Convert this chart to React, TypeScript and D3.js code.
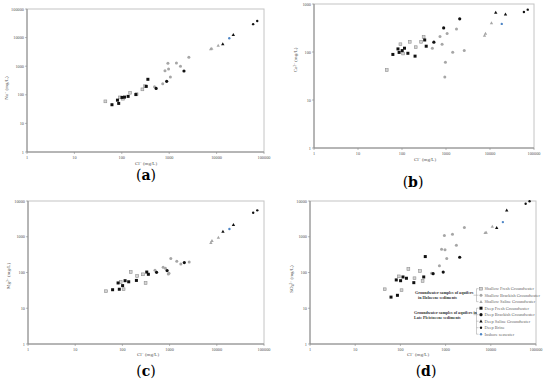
import * as d3 from 'd3';

// Cl- shared by all four panels; one entry per sample
const shallowCl = [45, 92, 106, 150, 205, 272, 310, 490, 730, 815, 940, 970, 1060, 1420, 1730, 2600, 7500, 7900, 10800];
const shallowType = ['SF', 'SF', 'SF', 'SF', 'SF', 'SF', 'SF', 'SB', 'SB', 'SB', 'SB', 'SB', 'SB', 'SB', 'SB', 'SB', 'SS', 'SS', 'SS'];
const shallowNa = [59, 81, 73, 118, 105, 155, 200, 192, 245, 700, 1260, 800, 420, 1300, 1000, 2050, 4000, 4100, 5300];
const shallowCa = [42, 145, 93, 163, 126, 163, 206, 120, 210, 145, 30, 61, 242, 99, 303, 107, 220, 242, 403];
const shallowMg = [30, 54, 34, 103, 80, 89, 51, 115, 140, 131, 91, 95, 245, 206, 174, 197, 675, 767, 955];
const shallowSO4 = [34, 78, 32, 125, 69, 110, 58, 95, 155, 447, 1085, 430, 245, 1180, 580, 1820, 1290, 1320, 1940];

const deepCl = [62, 81, 86, 101, 114, 136, 198, 328, 355, 530, 885, 2050, 13500, 22500, 59000, 72000];
const deepType = ['DF', 'DF', 'DF', 'DF', 'DF', 'DF', 'DF', 'DF', 'DF', 'DB', 'DB', 'DB', 'DS', 'DS', 'DBr', 'DBr'];
const deepNa = [45, 65, 50, 81, 83, 88, 102, 197, 348, 167, 295, 680, 5900, 12600, 29500, 38000];
const deepCa = [89, 116, 98, 107, 120, 94, 82, 178, 132, 160, 318, 490, 660, 611, 683, 762];
const deepMg = [33, 51, 34, 43, 59, 55, 60, 103, 89, 101, 113, 189, 1406, 2160, 4700, 5470];
const deepSO4 = [20.5, 62, 23, 59, 75, 69, 52, 75, 279, 93, 103, 267, 1780, 5470, 8410, 9800];

const seawaterCl = [18500];
const seawaterNa = [9500];
const seawaterCa = [385];
const seawaterMg = [1650];
const seawaterSO4 = [2570];

const xTicks = [1, 10, 100, 1000, 10000, 100000];

const legendTypes = ['SF', 'SB', 'SS', 'DF', 'DB', 'DS', 'DBr', 'SW'];
const legendLabels = [
  'Shallow Fresh Groundwater',
  'Shallow Brackish Groundwater',
  'Shallow Saline Groundwater',
  'Deep Fresh Groundwater',
  'Deep Brackish Groundwater',
  'Deep Saline Groundwater',
  'Deep Brine',
  'Inshore seawater',
];

const font = 'Liberation Serif, DejaVu Serif, serif';

const Marker = ({ t, x, y }: { t: string; x: number; y: number }) => {
  const gray = '#a6a6a6';
  const black = '#111';
  if (t === 'SF') return <rect x={x - 1.4} y={y - 1.4} width={2.8} height={2.8} fill="#d4d4d4" stroke="#8f8f8f" strokeWidth={0.6} />;
  if (t === 'SB') return <circle cx={x} cy={y} r={1.5} fill={gray} />;
  if (t === 'SS') return <path d={`M${x},${y - 1.8}L${x + 1.7},${y + 1.2}L${x - 1.7},${y + 1.2}Z`} fill={gray} />;
  if (t === 'DF') return <rect x={x - 1.5} y={y - 1.5} width={3} height={3} fill={black} />;
  if (t === 'DB') return <circle cx={x} cy={y} r={1.6} fill={black} />;
  if (t === 'DS') return <path d={`M${x},${y - 1.8}L${x + 1.7},${y + 1.2}L${x - 1.7},${y + 1.2}Z`} fill={black} />;
  if (t === 'DBr') return <circle cx={x} cy={y} r={1.2} fill={black} />;
  return <circle cx={x} cy={y} r={1.2} fill="#4f86c6" />;
};

interface PanelProps {
  left: number;
  right: number;
  top: number;
  bottom: number;
  yMax: number;
  shallow: number[];
  deep: number[];
  sea: number[];
  yLabel: React.ReactNode;
  yLabelX: number;
  yLabelY: number;
  xLabelX: number;
  xLabelY: number;
  caption: string;
  capX: number;
  capY: number;
}

const Panel = (p: PanelProps) => {
  const x = d3.scaleLog().domain([1, 100000]).range([p.left, p.right]);
  const y = d3.scaleLog().domain([1, p.yMax]).range([p.bottom, p.top]);
  const yTicks = xTicks.filter((v) => v <= p.yMax);
  return (
    <g fontFamily={font}>
      <rect x={p.left} y={p.top} width={p.right - p.left} height={p.bottom - p.top} fill="white" stroke="#c4c4c4" strokeWidth={1} />
      <line x1={p.left} x2={p.left} y1={p.top} y2={p.bottom} stroke="#8a8a8a" strokeWidth={1} />
      <line x1={p.left} x2={p.right} y1={p.bottom} y2={p.bottom} stroke="#8a8a8a" strokeWidth={1} />
      {xTicks.map((v) => (
        <g key={'x' + v}>
          <line x1={x(v)} x2={x(v)} y1={p.bottom} y2={p.bottom + 2} stroke="#8a8a8a" strokeWidth={0.6} />
          <text x={x(v)} y={p.bottom + 6.5} fontSize={4.3} fill="#555" textAnchor="middle">
            {v}
          </text>
        </g>
      ))}
      {yTicks.map((v) => (
        <g key={'y' + v}>
          <line x1={p.left - 2} x2={p.left} y1={y(v)} y2={y(v)} stroke="#8a8a8a" strokeWidth={0.6} />
          <text x={p.left - 3} y={y(v) + 1.5} fontSize={4.3} fill="#555" textAnchor="end">
            {v}
          </text>
        </g>
      ))}
      <text x={p.xLabelX} y={p.xLabelY} fontSize={5} fill="#555" textAnchor="middle">
        Cl<tspan dy={-1.5} fontSize={3.5}>−</tspan>
        <tspan dy={1.5}> (mg/L)</tspan>
      </text>
      <text transform={`translate(${p.yLabelX},${p.yLabelY}) rotate(-90)`} fontSize={5} fill="#555" textAnchor="middle">
        {p.yLabel}
      </text>
      {shallowCl.map((c, i) => (
        <Marker key={'s' + i} t={shallowType[i]} x={x(c)} y={y(p.shallow[i])} />
      ))}
      {deepCl.map((c, i) => (
        <Marker key={'d' + i} t={deepType[i]} x={x(c)} y={y(p.deep[i])} />
      ))}
      {seawaterCl.map((c, i) => (
        <Marker key={'w' + i} t="SW" x={x(c)} y={y(p.sea[i])} />
      ))}
      <text x={p.capX} y={p.capY} fontSize={14} fill="#000" textAnchor="middle" fontFamily="DejaVu Serif, serif">
        ({<tspan fontWeight="bold">{p.caption}</tspan>})
      </text>
    </g>
  );
};

const Legend = () => {
  const lx = 481;
  const ly = 288.7;
  const step = 6.5;
  const bx = 476.5;
  return (
    <g fontFamily={font}>
      {legendTypes.map((t, i) => (
        <g key={t}>
          <Marker t={t} x={lx} y={ly + i * step} />
          <text x={lx + 3.5} y={ly + i * step + 1.5} fontSize={4.4} fill="#666">
            {legendLabels[i]}
          </text>
        </g>
      ))}
      <path d={`M${bx + 2},${ly}H${bx}V${ly + 2 * step}H${bx + 2}M${bx},${ly + step}H${bx + 2}`} fill="none" stroke="#999" strokeWidth={0.5} />
      <path d={`M${bx - 3},${ly + step}H${bx}`} stroke="#999" strokeWidth={0.5} />
      <path d={`M${bx + 2},${ly + 3 * step}H${bx}V${ly + 7 * step}H${bx + 2}`} fill="none" stroke="#999" strokeWidth={0.5} />
      {[4, 5, 6].map((k) => (
        <path key={k} d={`M${bx},${ly + k * step}H${bx + 2}`} stroke="#999" strokeWidth={0.5} />
      ))}
      <path d={`M${bx - 3},${ly + 4 * step}H${bx}`} stroke="#999" strokeWidth={0.5} />
      <text x={415} y={294} fontSize={4.1} fontWeight="bold" fill="#333">
        Groundwater  samples of aquifers
      </text>
      <text x={418} y={299} fontSize={4.1} fontWeight="bold" fill="#333">
        in Holocene sediments
      </text>
      <text x={414} y={314} fontSize={4.1} fontWeight="bold" fill="#333">
        Groundwater samples of aquifers in
      </text>
      <text x={414} y={319} fontSize={4.1} fontWeight="bold" fill="#333">
        Late Pleistocene sediments
      </text>
    </g>
  );
};

const App = () => {
  return (
    <svg width={550} height={382} style={{ position: 'absolute', left: 0, top: 0, background: 'white' }}>
      <Panel
        left={27} right={264} top={9} bottom={152} yMax={100000}
        shallow={shallowNa} deep={deepNa} sea={seawaterNa}
        yLabel={<>Na<tspan dy={-1.5} fontSize={3.5}>+</tspan><tspan dy={1.5}> (mg/L)</tspan></>}
        yLabelX={8} yLabelY={88} xLabelX={146} xLabelY={165}
        caption="a" capX={146} capY={180}
      />
      <Panel
        left={314} right={534} top={4} bottom={148} yMax={1000}
        shallow={shallowCa} deep={deepCa} sea={seawaterCa}
        yLabel={<>Ca<tspan dy={-1.5} fontSize={3.5}>2+</tspan><tspan dy={1.5}> (mg/L)</tspan></>}
        yLabelX={297} yLabelY={60} xLabelX={425} xLabelY={161}
        caption="b" capX={413} capY={187}
      />
      <Panel
        left={28} right={264} top={201} bottom={344} yMax={10000}
        shallow={shallowMg} deep={deepMg} sea={seawaterMg}
        yLabel={<>Mg<tspan dy={-1.5} fontSize={3.5}>2+</tspan><tspan dy={1.5}> (mg/L)</tspan></>}
        yLabelX={10} yLabelY={276} xLabelX={148} xLabelY={356}
        caption="c" capX={146} capY={376}
      />
      <Panel
        left={310} right={536} top={201} bottom={344} yMax={10000}
        shallow={shallowSO4} deep={deepSO4} sea={seawaterSO4}
        yLabel={<>SO<tspan dy={1} fontSize={3.5}>4</tspan><tspan dy={-2.5} fontSize={3.5}>2−</tspan><tspan dy={1.5}> (mg/L)</tspan></>}
        yLabelX={293} yLabelY={279} xLabelX={418} xLabelY={356}
        caption="d" capX={426} capY={376}
      />
      <Legend />
    </svg>
  );
};

export default App;
